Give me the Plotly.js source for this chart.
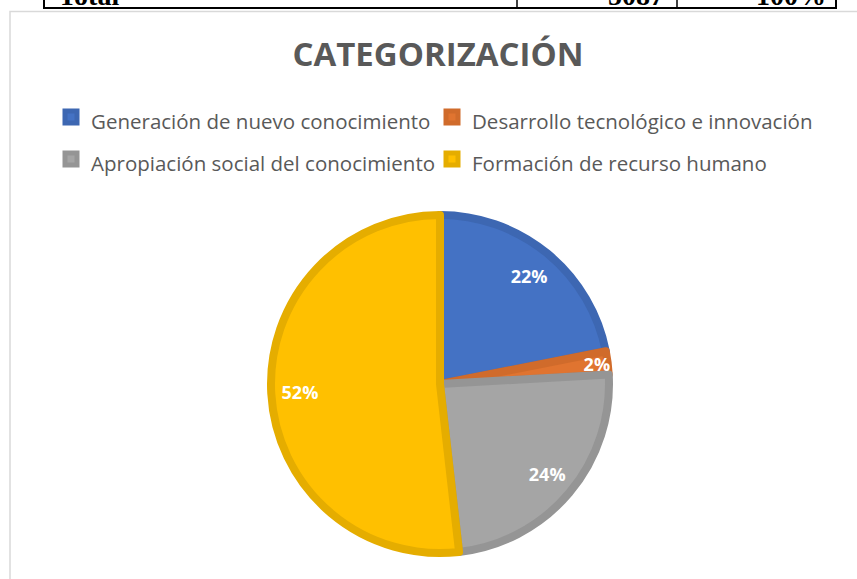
<!DOCTYPE html>
<html>
<head>
<meta charset="utf-8">
<script src="https://cdn.plot.ly/plotly-3.0.1.min.js"></script>
<style>html,body{margin:0;padding:0;background:#fff;}#chart{width:857px;height:579px;}</style>
</head>
<body>
<div id="chart"></div>
<script>
// Data
const categories = [
  "Generación de nuevo conocimiento",
  "Desarrollo tecnológico e innovación",
  "Apropiación social del conocimiento",
  "Formación de recurso humano"
];
const values = [21.9, 2.2, 24.1, 51.8];
const fillColors = ["#4472C4", "#E07430", "#A5A5A5", "#FFC000"];
const borderColors = ["#3D67B2", "#D06B2B", "#959595", "#E5AD00"];
const chartTitle = "CATEGORIZACIÓN";
const tableLabels = ["Total", "5087", "100%"];

const W = 857, H = 579;
const px = x => x / W;
const py = y => 1 - y / H;

// legend labels rendered at 20px inside a taller legend line
const legendLabels = categories.map(c => '<span style="font-size:20.5px">' + c + '</span>');

// pie geometry
const cx = 440, cy = 384, r = 169;
const domain = {x: [px(cx - r), px(cx + r)], y: [py(cy + r), py(cy - r)]};

const mainPie = {
  type: "pie",
  labels: legendLabels,
  values: values,
  sort: false,
  direction: "clockwise",
  rotation: 0,
  domain: domain,
  marker: {colors: fillColors, line: {color: borderColors, width: 8}},
  textinfo: "none",
  hoverinfo: "none",
  showlegend: true
};
const labelPie = {
  type: "pie",
  labels: legendLabels,
  values: values,
  sort: false,
  direction: "clockwise",
  rotation: 0,
  domain: domain,
  hole: 0.66,
  marker: {colors: ["rgba(0,0,0,0)","rgba(0,0,0,0)","rgba(0,0,0,0)","rgba(0,0,0,0)"], line: {width: 0}},
  texttemplate: "%{percent:.0%}",
  textposition: "inside",
  insidetextorientation: "horizontal",
  textfont: {family: "Open Sans", size: 18, color: "#FFFFFF", weight: "bold"},
  hoverinfo: "none",
  showlegend: false
};

const layout = {
  width: W, height: H,
  margin: {l: 0, r: 0, t: 0, b: 0},
  paper_bgcolor: "#FFFFFF",
  font: {family: "Open Sans", color: "#595959"},
  title: {
    text: chartTitle,
    font: {family: "Open Sans", size: 33, color: "#595959", weight: "bold"},
    x: px(438), xanchor: "center",
    y: py(54), yanchor: "middle", yref: "paper"
  },
  uniformtext: {mode: "show", minsize: 18},
  showlegend: true,
  legend: {
    orientation: "h",
    x: px(51), xanchor: "left",
    y: py(91), yanchor: "top",
    font: {family: "Open Sans", size: 30, color: "#595959"},
    entrywidth: 336,
    traceorder: "normal",
    itemclick: false, itemdoubleclick: false
  },
  shapes: [
    // chart frame
    {type: "rect", xref: "paper", yref: "paper", x0: px(10), x1: px(870), y0: py(600), y1: py(11.5),
     line: {color: "#D9D9D9", width: 1.5}, fillcolor: "rgba(0,0,0,0)"},
    // table fragment
    {type: "line", xref: "paper", yref: "paper", x0: px(43), x1: px(837), y0: py(8), y1: py(8), line: {color: "#000", width: 2}},
    {type: "line", xref: "paper", yref: "paper", x0: px(44), x1: px(44), y0: py(-2), y1: py(8), line: {color: "#000", width: 2}},
    {type: "line", xref: "paper", yref: "paper", x0: px(517), x1: px(517), y0: py(-2), y1: py(8), line: {color: "#000", width: 1.5}},
    {type: "line", xref: "paper", yref: "paper", x0: px(677), x1: px(677), y0: py(-2), y1: py(8), line: {color: "#000", width: 1.5}},
    {type: "line", xref: "paper", yref: "paper", x0: px(836), x1: px(836), y0: py(-2), y1: py(8), line: {color: "#000", width: 2}}
  ],
  annotations: [
    {text: "<b>" + tableLabels[0] + "</b>", xref: "paper", yref: "paper", x: px(56), y: py(12.5), xanchor: "left", yanchor: "bottom",
     showarrow: false, font: {family: "Liberation Serif", size: 28, color: "#000"}},
    {text: "<b>" + tableLabels[1] + "</b>", xref: "paper", yref: "paper", x: px(666), y: py(12.5), xanchor: "right", yanchor: "bottom",
     showarrow: false, font: {family: "Liberation Serif", size: 28, color: "#000"}},
    {text: "<b>" + tableLabels[2] + "</b>", xref: "paper", yref: "paper", x: px(828), y: py(12.5), xanchor: "right", yanchor: "bottom",
     showarrow: false, font: {family: "Liberation Serif", size: 28, color: "#000"}}
  ]
};

Plotly.newPlot("chart", [mainPie, labelPie], layout, {displayModeBar: false, staticPlot: true});
</script>
</body>
</html>
